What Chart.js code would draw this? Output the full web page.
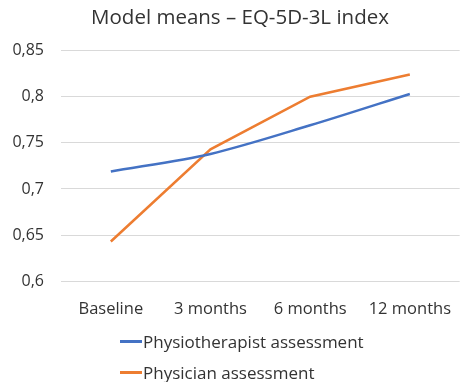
<!DOCTYPE html>
<html>
<head>
<meta charset="utf-8">
<script src="https://cdn.jsdelivr.net/npm/chart.js@4.4.1/dist/chart.umd.min.js"></script>
<style>
  html, body { margin: 0; padding: 0; background: #fff; }
  #wrap { position: relative; width: 461px; height: 382px; overflow: hidden; }
  #box { position: absolute; left: 0; top: 0; width: 461px; height: 329px; }
  #legend { position: absolute; left: 120px; top: 326px; font-family: "Open Sans", sans-serif; font-size: 17px; color: #333; }
  .item { display: flex; align-items: center; height: 31px; }
  .swatch { width: 22px; height: 2.5px; margin-right: 1px; }
</style>
</head>
<body>
<div id="wrap">
  <div id="box"><canvas id="c"></canvas></div>
  <div id="legend"></div>
</div>
<script>
const categories = ['Baseline', '3 months', '6 months', '12 months'];
const physiotherapist = [0.719, 0.738, 0.769, 0.803];
const physician = [0.643, 0.743, 0.800, 0.824];
const seriesNames = ['Physiotherapist assessment', 'Physician assessment'];
const yTicks = [0.6, 0.65, 0.7, 0.75, 0.8, 0.85];

const textColor = '#333';
const font = "'Open Sans', sans-serif";

// centre the title over the plot rather than the whole canvas
const titleOverPlot = {
  id: 'titleOverPlot',
  afterLayout(chart) {
    if (chart.titleBlock) {
      chart.titleBlock.left = chart.chartArea.left - 42;
    }
  }
};

const chart = new Chart(document.getElementById('c'), {
  type: 'line',
  data: {
    labels: categories,
    datasets: [
      { label: seriesNames[0], data: physiotherapist, borderColor: '#4472C4', backgroundColor: '#4472C4',
        borderWidth: 2.5, pointRadius: 0, tension: 0.3 },
      { label: seriesNames[1], data: physician, borderColor: '#ED7D31', backgroundColor: '#ED7D31',
        borderWidth: 2.5, pointRadius: 0, tension: 0 }
    ]
  },
  plugins: [titleOverPlot],
  options: {
    responsive: true,
    maintainAspectRatio: false,
    animation: false,
    layout: { padding: { left: 0, right: 0, top: 0, bottom: 0 } },
    plugins: {
      legend: { display: false },
      tooltip: { enabled: false },
      title: {
        display: true,
        text: 'Model means – EQ-5D-3L index',
        color: textColor,
        font: { family: font, size: 20.5, weight: 'normal' },
        padding: { top: 6, bottom: 20 }
      }
    },
    scales: {
      x: {
        offset: true,
        grid: { display: false },
        border: { display: false },
        ticks: { color: textColor, font: { family: font, size: 16.5 }, padding: 10, maxRotation: 0 }
      },
      y: {
        min: yTicks[0],
        max: yTicks[yTicks.length - 1],
        afterBuildTicks: (axis) => { axis.ticks = yTicks.map(v => ({ value: v })); },
        afterFit: (axis) => { axis.width = 61; },
        grid: { color: '#d9d9d9', lineWidth: 1, drawTicks: false },
        border: { display: false },
        ticks: {
          color: textColor,
          font: { family: font, size: 16 },
          padding: 17,
          callback: (v) => String(Number(v.toFixed(2))).replace('.', ',')
        }
      }
    }
  }
});

// legend, one series per row
const legend = document.getElementById('legend');
chart.data.datasets.forEach(ds => {
  const row = document.createElement('div');
  row.className = 'item';
  const sw = document.createElement('span');
  sw.className = 'swatch';
  sw.style.background = ds.borderColor;
  const label = document.createElement('span');
  label.textContent = ds.label;
  row.appendChild(sw);
  row.appendChild(label);
  legend.appendChild(row);
});
</script>
</body>
</html>
